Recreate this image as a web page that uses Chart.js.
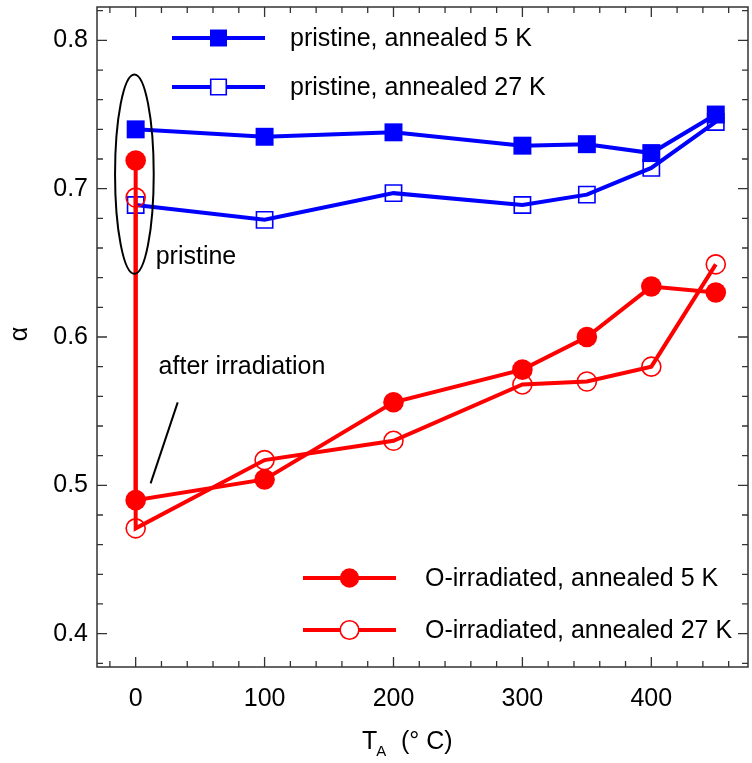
<!DOCTYPE html>
<html>
<head>
<meta charset="utf-8">
<script src="https://cdn.jsdelivr.net/npm/chart.js@4.4.1/dist/chart.umd.min.js"></script>
<style>
  html, body { margin: 0; padding: 0; background: #ffffff; }
  #wrap { width: 752px; height: 763px; }
</style>
</head>
<body>
<div id="wrap"><canvas id="chart" width="752" height="763"></canvas></div>
<script>
// Annealing temperatures (°C) and exponent alpha for each series
const annealT      = [0, 100, 200, 300, 350, 400, 450];
const pristine5K   = [0.740, 0.735, 0.738, 0.729, 0.730, 0.724, 0.750];
const pristine27K  = [0.689, 0.679, 0.697, 0.689, 0.696, 0.714, 0.745];
// O-irradiated: first point is the pristine value, second is right after irradiation
const irradT       = [0, 0, 100, 200, 300, 350, 400, 450];
const irrad5K      = [0.719, 0.490, 0.504, 0.556, 0.578, 0.600, 0.634, 0.630];
const irrad27K     = [0.694, 0.471, 0.517, 0.530, 0.568, 0.570, 0.580, 0.649];

const seriesLabels = ['pristine, annealed 5 K', 'pristine, annealed 27 K',
                      'O-irradiated, annealed 5 K', 'O-irradiated, annealed 27 K'];
const xTickValues = [0, 100, 200, 300, 400];
const xTickLabels = ['0', '100', '200', '300', '400'];
const yTickValues = [0.4, 0.5, 0.6, 0.7, 0.8];
const yTickLabels = ['0.4', '0.5', '0.6', '0.7', '0.8'];

const BLUE = '#0000ff';
const RED = '#ff0000';
const FONT = '"Liberation Sans", Arial, Helvetica, sans-serif';
const FS = 25;

function series(label, xs, ys, color, style, filled, radius, order) {
  return {
    label,
    data: xs.map((x, i) => ({ x, y: ys[i] })),
    borderColor: color,
    borderWidth: 4,
    pointStyle: style,
    pointRadius: radius,
    pointHoverRadius: radius,
    pointBackgroundColor: filled ? color : 'rgba(0,0,0,0)',
    pointBorderColor: color,
    pointBorderWidth: filled ? 0 : 1.6,
    tension: 0,
    fill: false,
    order
  };
}

function noScalePadding(s) {
  s.paddingTop = 0; s.paddingBottom = 0; s.paddingLeft = 0; s.paddingRight = 0;
}

// Frame, inward ticks on all four sides, annotations, legends and axis titles
const decorations = {
  id: 'decorations',
  afterDraw(chart) {
    const { ctx, chartArea: a, scales: { x, y } } = chart;
    ctx.save();

    // frame
    ctx.strokeStyle = '#333333';
    ctx.lineWidth = 1.5;
    ctx.strokeRect(a.left, a.top, a.right - a.left, a.bottom - a.top);

    // ticks
    ctx.lineWidth = 1.3;
    ctx.beginPath();
    for (let v = -20; v <= 470; v += 20) {
      const px = x.getPixelForValue(v);
      if (px <= a.left || px >= a.right) continue;
      const len = (v % 100 === 0) ? 10 : 6;
      ctx.moveTo(px, a.bottom); ctx.lineTo(px, a.bottom - len);
      ctx.moveTo(px, a.top); ctx.lineTo(px, a.top + len);
    }
    for (let k = 38; k <= 82; k += 2) {
      const v = k / 100;
      const py = y.getPixelForValue(v);
      if (py <= a.top || py >= a.bottom) continue;
      const len = (k % 10 === 0) ? 10 : 6;
      ctx.moveTo(a.left, py); ctx.lineTo(a.left + len, py);
      ctx.moveTo(a.right, py); ctx.lineTo(a.right - len, py);
    }
    ctx.stroke();

    // ellipse around the pristine values
    const cx = x.getPixelForValue(-1), cy = y.getPixelForValue(0.7098);
    const rx = x.getPixelForValue(14) - x.getPixelForValue(-1);
    const ry = y.getPixelForValue(0.7098) - y.getPixelForValue(0.7770);
    ctx.strokeStyle = '#000000';
    ctx.lineWidth = 2;
    ctx.beginPath();
    ctx.ellipse(cx, cy, rx, ry, 0, 0, Math.PI * 2);
    ctx.stroke();

    // pointer line for "after irradiation"
    ctx.beginPath();
    ctx.moveTo(x.getPixelForValue(32.6), y.getPixelForValue(0.5559));
    ctx.lineTo(x.getPixelForValue(11.6), y.getPixelForValue(0.5013));
    ctx.stroke();

    ctx.fillStyle = '#000000';
    ctx.font = FS + 'px ' + FONT;
    ctx.textAlign = 'left';
    ctx.textBaseline = 'middle';
    ctx.fillText('pristine', x.getPixelForValue(15.5), y.getPixelForValue(0.6539));
    ctx.fillText('after irradiation', x.getPixelForValue(17.8), y.getPixelForValue(0.5797));

    // legends
    const items = [
      { color: BLUE, style: 'rect', filled: true,  r: 12,  lx: 172, ly: 38,  tx: 290 },
      { color: BLUE, style: 'rect', filled: false, r: 11,  lx: 172, ly: 87,  tx: 290 },
      { color: RED,  style: 'circle', filled: true,  r: 9.7, lx: 303, ly: 578, tx: 425 },
      { color: RED,  style: 'circle', filled: false, r: 9.3, lx: 303, ly: 630, tx: 425 }
    ];
    items.forEach((it, i) => {
      ctx.strokeStyle = it.color;
      ctx.lineWidth = 4;
      ctx.beginPath();
      ctx.moveTo(it.lx, it.ly);
      ctx.lineTo(it.lx + 93, it.ly);
      ctx.stroke();
      ctx.fillStyle = it.filled ? it.color : '#ffffff';
      ctx.strokeStyle = it.color;
      ctx.lineWidth = 1.6;
      Chart.helpers.drawPoint(ctx, {
        pointStyle: it.style, radius: it.r, rotation: 0,
        borderWidth: it.filled ? 0 : 1.6
      }, it.lx + 46.5, it.ly);
      ctx.fillStyle = '#000000';
      ctx.font = FS + 'px ' + FONT;
      ctx.textAlign = 'left';
      ctx.textBaseline = 'middle';
      ctx.fillText(seriesLabels[i], it.tx, it.ly + 1);
    });

    // y title
    ctx.save();
    ctx.translate(20, 334);
    ctx.rotate(-Math.PI / 2);
    ctx.textAlign = 'center';
    ctx.textBaseline = 'middle';
    ctx.font = FS + 'px ' + FONT;
    ctx.fillText('α', 0, 0);
    ctx.restore();

    // x title: T with subscript A, then (° C)
    ctx.textBaseline = 'alphabetic';
    ctx.textAlign = 'left';
    const base = 749;
    let tx = 362;
    ctx.font = FS + 'px ' + FONT;
    ctx.fillText('T', tx, base);
    tx += ctx.measureText('T').width - 1;
    ctx.font = '15px ' + FONT;
    ctx.fillText('A', tx, base + 7);
    ctx.font = FS + 'px ' + FONT;
    ctx.fillText('(° C)', 401, base);

    ctx.restore();
  }
};

new Chart(document.getElementById('chart'), {
  type: 'line',
  data: {
    datasets: [
      series(seriesLabels[0], annealT, pristine5K, BLUE, 'rect', true, 12.7, 2),
      series(seriesLabels[1], annealT, pristine27K, BLUE, 'rect', false, 11.5, 3),
      series(seriesLabels[2], irradT, irrad5K, RED, 'circle', true, 10.3, 0),
      series(seriesLabels[3], irradT, irrad27K, RED, 'circle', false, 9.5, 1)
    ]
  },
  options: {
    responsive: false,
    animation: false,
    layout: { autoPadding: false, padding: { top: 7, right: 4, left: 0, bottom: 0 } },
    plugins: { legend: { display: false }, tooltip: { enabled: false } },
    scales: {
      x: {
        type: 'linear',
        min: -30, max: 475,
        afterBuildTicks: s => { s.ticks = xTickValues.map(v => ({ value: v })); },
        afterFit: s => { s.height = 96; noScalePadding(s); },
        grid: { display: false, drawTicks: false },
        border: { display: false },
        ticks: {
          color: '#000000', padding: 17,
          font: { family: FONT, size: FS },
          maxRotation: 0, autoSkip: false,
          callback: (v) => xTickLabels[xTickValues.indexOf(v)]
        }
      },
      y: {
        type: 'linear',
        min: 0.3775, max: 0.8225,
        afterBuildTicks: s => { s.ticks = yTickValues.map(v => ({ value: v })); },
        afterFit: s => { s.width = 97; noScalePadding(s); },
        grid: { display: false, drawTicks: false },
        border: { display: false },
        ticks: {
          color: '#000000', padding: 9,
          font: { family: FONT, size: FS },
          autoSkip: false,
          callback: (v) => {
            const i = yTickValues.findIndex(t => Math.abs(t - v) < 1e-9);
            return i >= 0 ? yTickLabels[i] : '';
          }
        }
      }
    }
  },
  plugins: [decorations]
});
</script>
</body>
</html>
